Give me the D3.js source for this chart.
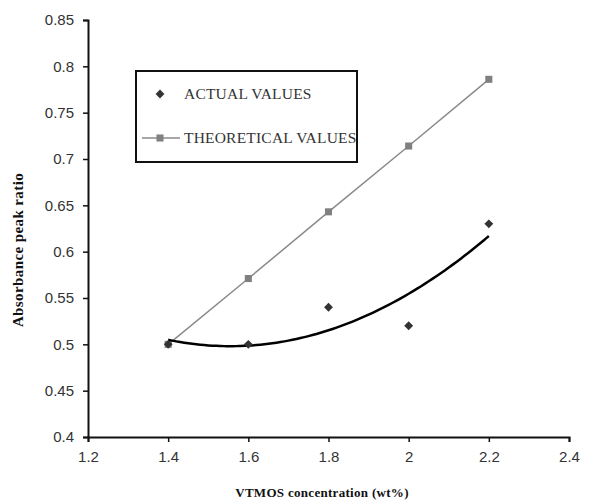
<!DOCTYPE html>
<html>
<head>
<meta charset="utf-8">
<script src="https://cdn.jsdelivr.net/npm/d3@7"></script>
<style>
  body { margin: 0; background: #fff; }
</style>
</head>
<body>
<div class="canvas"></div>
<script>
// values
const concentrations = [1.4, 1.6, 1.8, 2.0, 2.2];
const actualValues = [0.50, 0.50, 0.54, 0.52, 0.63];
const theoreticalValues = [0.50, 0.571, 0.643, 0.714, 0.786];
const xTicks = [1.2, 1.4, 1.6, 1.8, 2.0, 2.2, 2.4];
const yTicks = [0.4, 0.45, 0.5, 0.55, 0.6, 0.65, 0.7, 0.75, 0.8, 0.85];

const svg = d3.select('.canvas').append('svg')
    .attr('width', 616)
    .attr('height', 503);

const x = d3.scaleLinear().domain([1.2, 2.4]).range([88, 569]);
const y = d3.scaleLinear().domain([0.4, 0.85]).range([437, 20]);

// axes
const xAxis = svg.append('g')
    .attr('transform', `translate(0,${y(0.4)})`)
    .call(d3.axisBottom(x).tickValues(xTicks).tickSize(5).tickPadding(9)
        .tickFormat(d3.format('~g')));
const yAxis = svg.append('g')
    .attr('transform', `translate(${x(1.2)},0)`)
    .call(d3.axisLeft(y).tickValues(yTicks).tickSize(5).tickPadding(9)
        .tickFormat(d3.format('~g')));

[xAxis, yAxis].forEach(g => {
    g.select('.domain').attr('stroke', '#111').attr('stroke-width', 2);
    g.selectAll('.tick line').attr('stroke', '#111').attr('stroke-width', 1.5);
    g.selectAll('.tick text')
        .attr('fill', '#333')
        .style('font-family', 'Liberation Sans, Arial, sans-serif')
        .style('font-size', '15px');
});

// theoretical line + squares
const line = d3.line().x(d => x(d[0])).y(d => y(d[1]));
const theo = concentrations.map((c, i) => [c, theoreticalValues[i]]);
svg.append('path')
    .attr('d', line(theo))
    .attr('fill', 'none')
    .attr('stroke', '#8a8a8a')
    .attr('stroke-width', 1.5);
svg.selectAll('.sq').data(theo).enter().append('path')
    .attr('transform', d => `translate(${x(d[0])},${y(d[1])})`)
    .attr('d', d3.symbol(d3.symbolSquare, 50))
    .attr('fill', '#808080');

// quadratic trend line through the actual values (least squares)
const act = concentrations.map((c, i) => [c, actualValues[i]]);
function quadFit(pts) {
    let s = [0, 0, 0, 0, 0], t = [0, 0, 0];
    pts.forEach(([px, py]) => {
        for (let k = 0; k < 5; k++) s[k] += Math.pow(px, k);
        for (let k = 0; k < 3; k++) t[k] += py * Math.pow(px, k);
    });
    const m = [[s[0], s[1], s[2], t[0]], [s[1], s[2], s[3], t[1]], [s[2], s[3], s[4], t[2]]];
    for (let i = 0; i < 3; i++) {
        for (let j = i + 1; j < 3; j++) {
            const f = m[j][i] / m[i][i];
            for (let k = i; k < 4; k++) m[j][k] -= f * m[i][k];
        }
    }
    const c = [0, 0, 0];
    for (let i = 2; i >= 0; i--) {
        let v = m[i][3];
        for (let k = i + 1; k < 3; k++) v -= m[i][k] * c[k];
        c[i] = v / m[i][i];
    }
    return c;
}
const coef = quadFit(act);
const trend = d3.range(1.4, 2.2001, 0.01).map(v => [v, coef[0] + coef[1] * v + coef[2] * v * v]);
svg.append('path')
    .attr('d', d3.line().curve(d3.curveBasis).x(d => x(d[0])).y(d => y(d[1]))(trend))
    .attr('fill', 'none')
    .attr('stroke', '#000')
    .attr('stroke-width', 2.5);

// actual diamonds
svg.selectAll('.dia').data(act).enter().append('path')
    .attr('transform', d => `translate(${x(d[0])},${y(d[1])})`)
    .attr('d', d3.symbol(d3.symbolDiamond2, 50))
    .attr('fill', '#333');

// legend
const legend = svg.append('g');
legend.append('rect')
    .attr('x', 136).attr('y', 71)
    .attr('width', 221).attr('height', 91)
    .attr('fill', 'none')
    .attr('stroke', '#111')
    .attr('stroke-width', 2);
legend.append('path')
    .attr('transform', 'translate(160,94)')
    .attr('d', d3.symbol(d3.symbolDiamond2, 50))
    .attr('fill', '#333');
legend.append('line')
    .attr('x1', 142).attr('x2', 180)
    .attr('y1', 138).attr('y2', 138)
    .attr('stroke', '#8a8a8a').attr('stroke-width', 1.5);
legend.append('path')
    .attr('transform', 'translate(160,138)')
    .attr('d', d3.symbol(d3.symbolSquare, 50))
    .attr('fill', '#808080');
legend.selectAll('text')
    .data(['ACTUAL VALUES', 'THEORETICAL VALUES'])
    .enter().append('text')
    .attr('x', 184)
    .attr('y', (d, i) => 94 + i * 44)
    .attr('dy', '0.35em')
    .attr('fill', '#333')
    .style('font-family', 'Liberation Serif, Times New Roman, serif')
    .style('font-size', '15.5px')
    .style('letter-spacing', '0.2px')
    .text(d => d);

// axis titles
svg.append('text')
    .attr('x', 322).attr('y', 497)
    .attr('text-anchor', 'middle')
    .attr('fill', '#111')
    .style('font-family', 'Liberation Serif, Times New Roman, serif')
    .style('font-weight', 'bold')
    .style('font-size', '13px')
    .style('letter-spacing', '0.3px')
    .text('VTMOS concentration (wt%)');
svg.append('text')
    .attr('transform', 'translate(23,250) rotate(-90)')
    .attr('text-anchor', 'middle')
    .attr('fill', '#111')
    .style('font-family', 'Liberation Serif, Times New Roman, serif')
    .style('font-weight', 'bold')
    .style('font-size', '15px')
    .style('letter-spacing', '0.4px')
    .text('Absorbance peak ratio');
</script>
</body>
</html>
